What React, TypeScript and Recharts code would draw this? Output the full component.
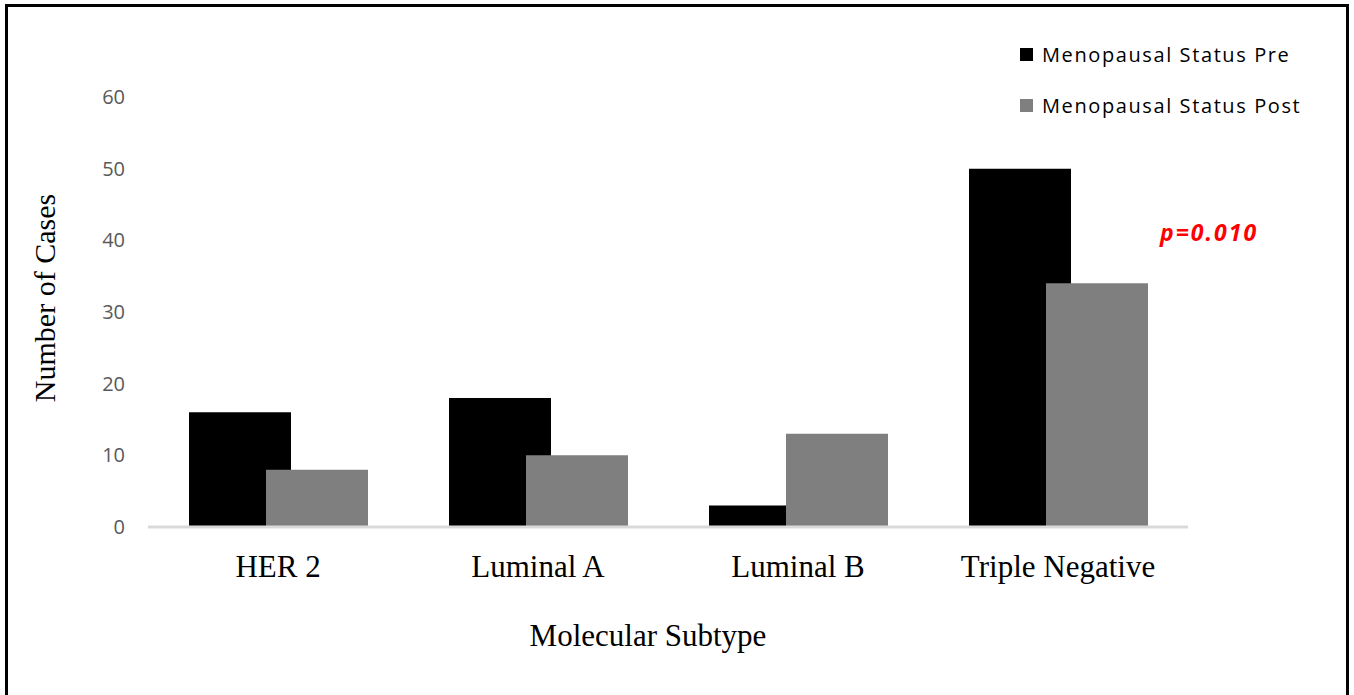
import { BarChart, Bar, XAxis, YAxis, Label } from "recharts";

const subtypes = ["HER 2", "Luminal A", "Luminal B", "Triple Negative"];
const preCases = [16, 18, 3, 50];
const postCases = [8, 10, 13, 34];
const yTicks = [0, 10, 20, 30, 40, 50, 60];
const seriesNames = ["Menopausal Status Pre", "Menopausal Status Post"];
const seriesColors = ["#000000", "#7f7f7f"];
const pValue = "p=0.010";

const data = subtypes.map((name, i) => ({ name, pre: preCases[i], post: postCases[i] }));

const serif = "'Liberation Serif', 'Times New Roman', serif";
const sans = "'Open Sans', 'Noto Sans', sans-serif";

function LegendBox() {
  return (
    <div style={{ position: "absolute", left: 1020, top: 29, fontFamily: sans, fontSize: 20, color: "#000" }}>
      {seriesNames.map((label, i) => (
        <div key={label} style={{ display: "flex", alignItems: "center", height: 51, letterSpacing: 1.6 }}>
          <span
            style={{ width: 13, height: 13, background: seriesColors[i], marginRight: 9, display: "inline-block" }}
          />
          {label}
        </div>
      ))}
    </div>
  );
}

export default function App() {
  return (
    <div style={{ position: "absolute", left: 0, top: 0, width: 1354, height: 695, background: "#fff" }}>
      <BarChart
        width={1354}
        height={695}
        data={data}
        margin={{ top: 97, right: 166, bottom: 0, left: 0 }}
        barCategoryGap={41}
        barGap={-25}
      >
        <YAxis
          width={148}
          domain={[0, 60]}
          ticks={yTicks}
          axisLine={false}
          tickLine={false}
          tickSize={0}
          tickMargin={23}
          tick={{ fill: "#595959", fontSize: 20, fontFamily: sans }}
        >
          <Label
            content={() => (
              <text
                x={55}
                y={298}
                transform="rotate(-90, 55, 298)"
                textAnchor="middle"
                fontFamily={serif}
                fontSize={30}
                fill="#000"
              >
                Number of Cases
              </text>
            )}
          />
        </YAxis>
        <XAxis
          dataKey="name"
          height={168}
          axisLine={{ stroke: "#d9d9d9", strokeWidth: 3 }}
          tickLine={false}
          tickSize={0}
          tickMargin={28}
          tick={{ fill: "#000", fontSize: 31, fontFamily: serif }}
        >
          <Label
            content={() => (
              <text x={648} y={646} textAnchor="middle" fontFamily={serif} fontSize={31} fill="#000">
                Molecular Subtype
              </text>
            )}
          />
        </XAxis>
        <Bar dataKey="pre" name={seriesNames[0]} fill={seriesColors[0]} barSize={102} isAnimationActive={false} />
        <Bar dataKey="post" name={seriesNames[1]} fill={seriesColors[1]} barSize={102} isAnimationActive={false} />
      </BarChart>
      <LegendBox />
      <div
        style={{
          position: "absolute",
          left: 1160,
          top: 216,
          color: "#ff0000",
          fontFamily: sans,
          fontWeight: 700,
          fontStyle: "italic",
          fontSize: 23,
          letterSpacing: 2,
        }}
      >
        {pValue}
      </div>
      <div
        style={{
          position: "absolute",
          left: 5,
          top: 4,
          width: 1338,
          height: 690,
          border: "3px solid #000",
          pointerEvents: "none",
        }}
      />
    </div>
  );
}
